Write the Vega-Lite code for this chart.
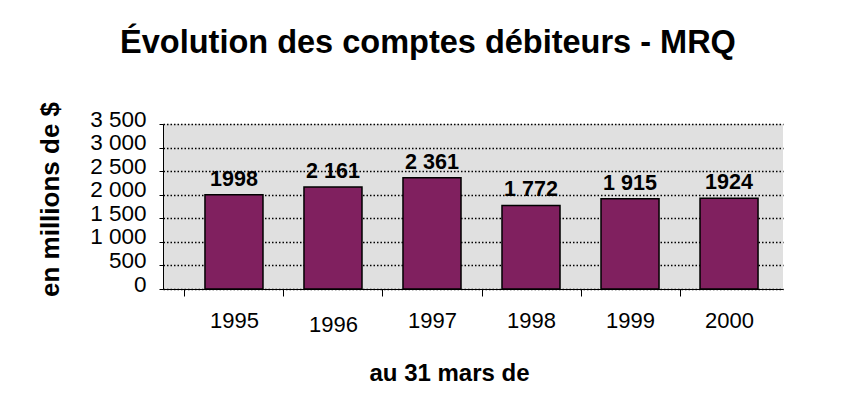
{
  "$schema": "https://vega.github.io/schema/vega-lite/v6.json",
  "width": 620,
  "height": 165,
  "autosize": {"type": "none"},
  "padding": {"left": 163, "top": 124, "right": 67, "bottom": 118},
  "background": "white",
  "config": {
    "font": "Liberation Sans",
    "view": {"fill": "#e0e0e0", "stroke": null}
  },
  "title": {
    "text": "Évolution des comptes débiteurs - MRQ",
    "fontSize": 32.5,
    "fontWeight": "bold",
    "font": "Liberation Sans",
    "color": "black",
    "anchor": "middle",
    "frame": "group",
    "baseline": "alphabetic",
    "offset": 16,
    "dx": -45
  },
  "data": {
    "values": [
      {"annee": "1995", "montant": 1998, "lbl": "1998"},
      {"annee": "1996", "montant": 2161, "lbl": "2 161"},
      {"annee": "1997", "montant": 2361, "lbl": "2 361"},
      {"annee": "1998", "montant": 1772, "lbl": "1 772"},
      {"annee": "1999", "montant": 1915, "lbl": "1 915"},
      {"annee": "2000", "montant": 1924, "lbl": "1924"}
    ]
  },
  "encoding": {
    "x": {
      "field": "annee",
      "type": "ordinal",
      "sort": null,
      "scale": {"paddingInner": 0.414, "paddingOuter": 0.338, "align": 0.627},
      "axis": {
        "title": "au 31 mars de",
        "labelAngle": 0,
        "labelFontSize": 22,
        "labelColor": "black",
        "labelBaseline": "top",
        "labelPadding": {"condition": {"test": "datum.value == '1996'", "value": 18}, "value": 14},
        "tickBand": "center",
        "tickOffset": -49.5,
        "labelOffset": 49.5,
        "tickSize": 7,
        "tickColor": "black",
        "domainColor": "black",
        "titleFontSize": 24,
        "titleFontWeight": "bold",
        "titleColor": "black",
        "titleX": 286,
        "titleY": 91,
        "titleBaseline": "alphabetic",
        "titleAlign": "center"
      }
    },
    "y": {
      "field": "montant",
      "type": "quantitative",
      "scale": {"domain": [0, 3500], "nice": false},
      "axis": {
        "title": "en millions de $",
        "values": [0, 500, 1000, 1500, 2000, 2500, 3000, 3500],
        "labelExpr": "replace(format(datum.value, ','), ',', ' ')",
        "labelOverlap": false,
        "labelFontSize": 22.5,
        "labelColor": "black",
        "labelPadding": 13,
        "labelOffset": -5,
        "tickSize": 4,
        "tickColor": "black",
        "domainColor": "black",
        "grid": true,
        "gridColor": "black",
        "gridDash": [1.5, 2],
        "gridWidth": 1.5,
        "titleFontSize": 26,
        "titleFontWeight": "bold",
        "titleColor": "black",
        "titleX": -105,
        "titleY": 75,
        "titleAngle": -90,
        "titleBaseline": "alphabetic",
        "titleAlign": "center"
      }
    }
  },
  "layer": [
    {
      "mark": {"type": "bar", "color": "#80205f", "stroke": "black", "strokeWidth": 1.5}
    },
    {
      "mark": {"type": "text", "fontSize": 21.5, "fontWeight": "bold", "color": "black", "baseline": "alphabetic", "dy": -9},
      "encoding": {
        "text": {"field": "lbl"}
      }
    }
  ]
}
